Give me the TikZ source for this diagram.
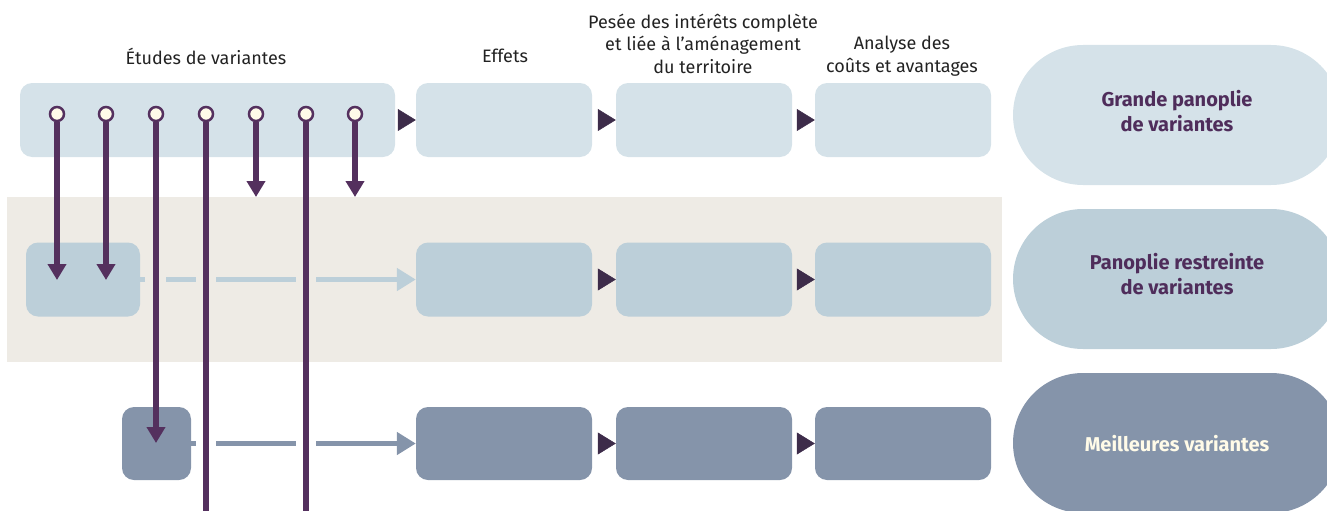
\documentclass[tikz,border=0pt]{standalone}
\usepackage{fontspec}
\setmainfont{Fira Sans}
\usetikzlibrary{arrows.meta}
\definecolor{rowA}{HTML}{D5E2E9}
\definecolor{rowB}{HTML}{BCCFD9}
\definecolor{rowC}{HTML}{8594AA}
\definecolor{bandc}{HTML}{EEEBE5}
\definecolor{pur}{HTML}{54305E}
\definecolor{tric}{HTML}{3D2C4A}
\definecolor{cream}{HTML}{FFFBE8}
\definecolor{ptext}{HTML}{4F2D5B}
\definecolor{ttext}{HTML}{222222}
\begin{document}
\begin{tikzpicture}[x=1pt,y=-1pt,
  box/.style={rectangle, rounded corners=12pt, inner sep=0pt, draw=none, minimum height=74pt},
  wbox/.style={box, minimum width=176pt},
  pill/.style={rectangle, rounded corners=70pt, inner sep=0pt, minimum width=328pt, minimum height=140pt},
  plabel/.style={inner sep=0pt, align=center, font=\fontsize{20}{25}\selectfont\bfseries},
  title/.style={inner sep=0pt, align=center, text=ttext, font=\fontsize{18}{22.5}\selectfont},
  tri/.style={draw=tric, -{Triangle[length=18pt,width=22pt]}, line width=0.5pt},
  link/.style={line width=5pt, -{Triangle[length=19pt,width=22pt]}},
  vline/.style={draw=pur, line width=6pt},
  vend/.style={vline, -{Triangle[length=16pt,width=18pt]}},
  dot/.style={circle, draw=pur, fill=cream, line width=2.5pt, minimum size=14pt, inner sep=0pt}
]
\useasboundingbox (0,0) rectangle (1327,511);
% band
\fill[bandc] (7,197) rectangle (1002,362);

% titles
\node[title] (t1) at (206,56) {Études de variantes};
\node[title] (t2) at (505,56) {Effets};
\node[title] (t3) at (703,43.5) {Pesée des intérêts complète\\et liée à l’aménagement\\du territoire};
\node[title] (t4) at (902,56) {Analyse des\\coûts et avantages};

% row 1
\node[box, fill=rowA, minimum width=375pt] (a0) at (207.5,120) {};
\node[wbox, fill=rowA] (a1) at (504,120) {};
\node[wbox, fill=rowA] (a2) at (704,120) {};
\node[wbox, fill=rowA] (a3) at (903,120) {};
% row 2
\node[box, fill=rowB, minimum width=114pt] (b0) at (83,279.5) {};
\node[wbox, fill=rowB] (b1) at (504,279.5) {};
\node[wbox, fill=rowB] (b2) at (704,279.5) {};
\node[wbox, fill=rowB] (b3) at (903,279.5) {};
% row 3
\node[box, fill=rowC, minimum width=69pt, minimum height=73pt] (c0) at (156.5,443.5) {};
\node[wbox, fill=rowC, minimum height=73pt] (c1) at (504,443.5) {};
\node[wbox, fill=rowC, minimum height=73pt] (c2) at (704,443.5) {};
\node[wbox, fill=rowC, minimum height=73pt] (c3) at (903,443.5) {};

% pills
\node[pill, fill=rowA] (p1) at (1177,115) {};
\node[pill, fill=rowB] (p2) at (1177,279) {};
\node[pill, fill=rowC] (p3) at (1177,443) {};
\node[plabel, text=ptext] (l1) at (1177,111) {Grande panoplie\\de variantes};
\node[plabel, text=ptext] (l2) at (1177,274.5) {Panoplie restreinte\\de variantes};
\node[plabel, text=cream] (l3) at (1177,444) {Meilleures variantes};

% triangles between boxes
\draw[tri, shorten <=3pt] (a0.east) -- (a1.west);
\draw[tri, shorten <=6pt] (a1.east) -- (a2.west);
\draw[tri, shorten <=5pt] (a2.east) -- (a3.west);
\draw[tri, shorten <=6pt] (b1.east) -- (b2.west);
\draw[tri, shorten <=5pt] (b2.east) -- (b3.west);
\draw[tri, shorten <=6pt] (c1.east) -- (c2.west);
\draw[tri, shorten <=5pt] (c2.east) -- (c3.west);

% connectors rows 2 and 3
\draw[link, draw=rowB, fill=rowB] (b0.east) -- (b1.west);
\draw[link, draw=rowC, fill=rowC] (c0.east) -- (c1.west);
% gaps where the vertical lines cross
\fill[bandc] (145,273) rectangle (166,286);
\fill[bandc] (196,273) rectangle (216,286);
\fill[bandc] (296,273) rectangle (316,286);
\fill[white] (196,437) rectangle (216,450);
\fill[white] (296,437) rectangle (316,450);

% circles
\node[dot] (v1) at (57,114) {};
\node[dot] (v2) at (106,114) {};
\node[dot] (v3) at (156,114) {};
\node[dot] (v4) at (206,114) {};
\node[dot] (v5) at (256,114) {};
\node[dot] (v6) at (306,114) {};
\node[dot] (v7) at (355,114) {};
\coordinate (e1) at (57,280);
\coordinate (e2) at (106,280);
\coordinate (e3) at (156,443);
\coordinate (e4) at (206,515);
\coordinate (e5) at (256,197);
\coordinate (e6) at (306,515);
\coordinate (e7) at (355,197);
\draw[vend] (v1) -- (e1);
\draw[vend] (v2) -- (e2);
\draw[vend] (v3) -- (e3);
\draw[vline] (v4) -- (e4);
\draw[vend] (v5) -- (e5);
\draw[vline] (v6) -- (e6);
\draw[vend] (v7) -- (e7);
\end{tikzpicture}
\end{document}
